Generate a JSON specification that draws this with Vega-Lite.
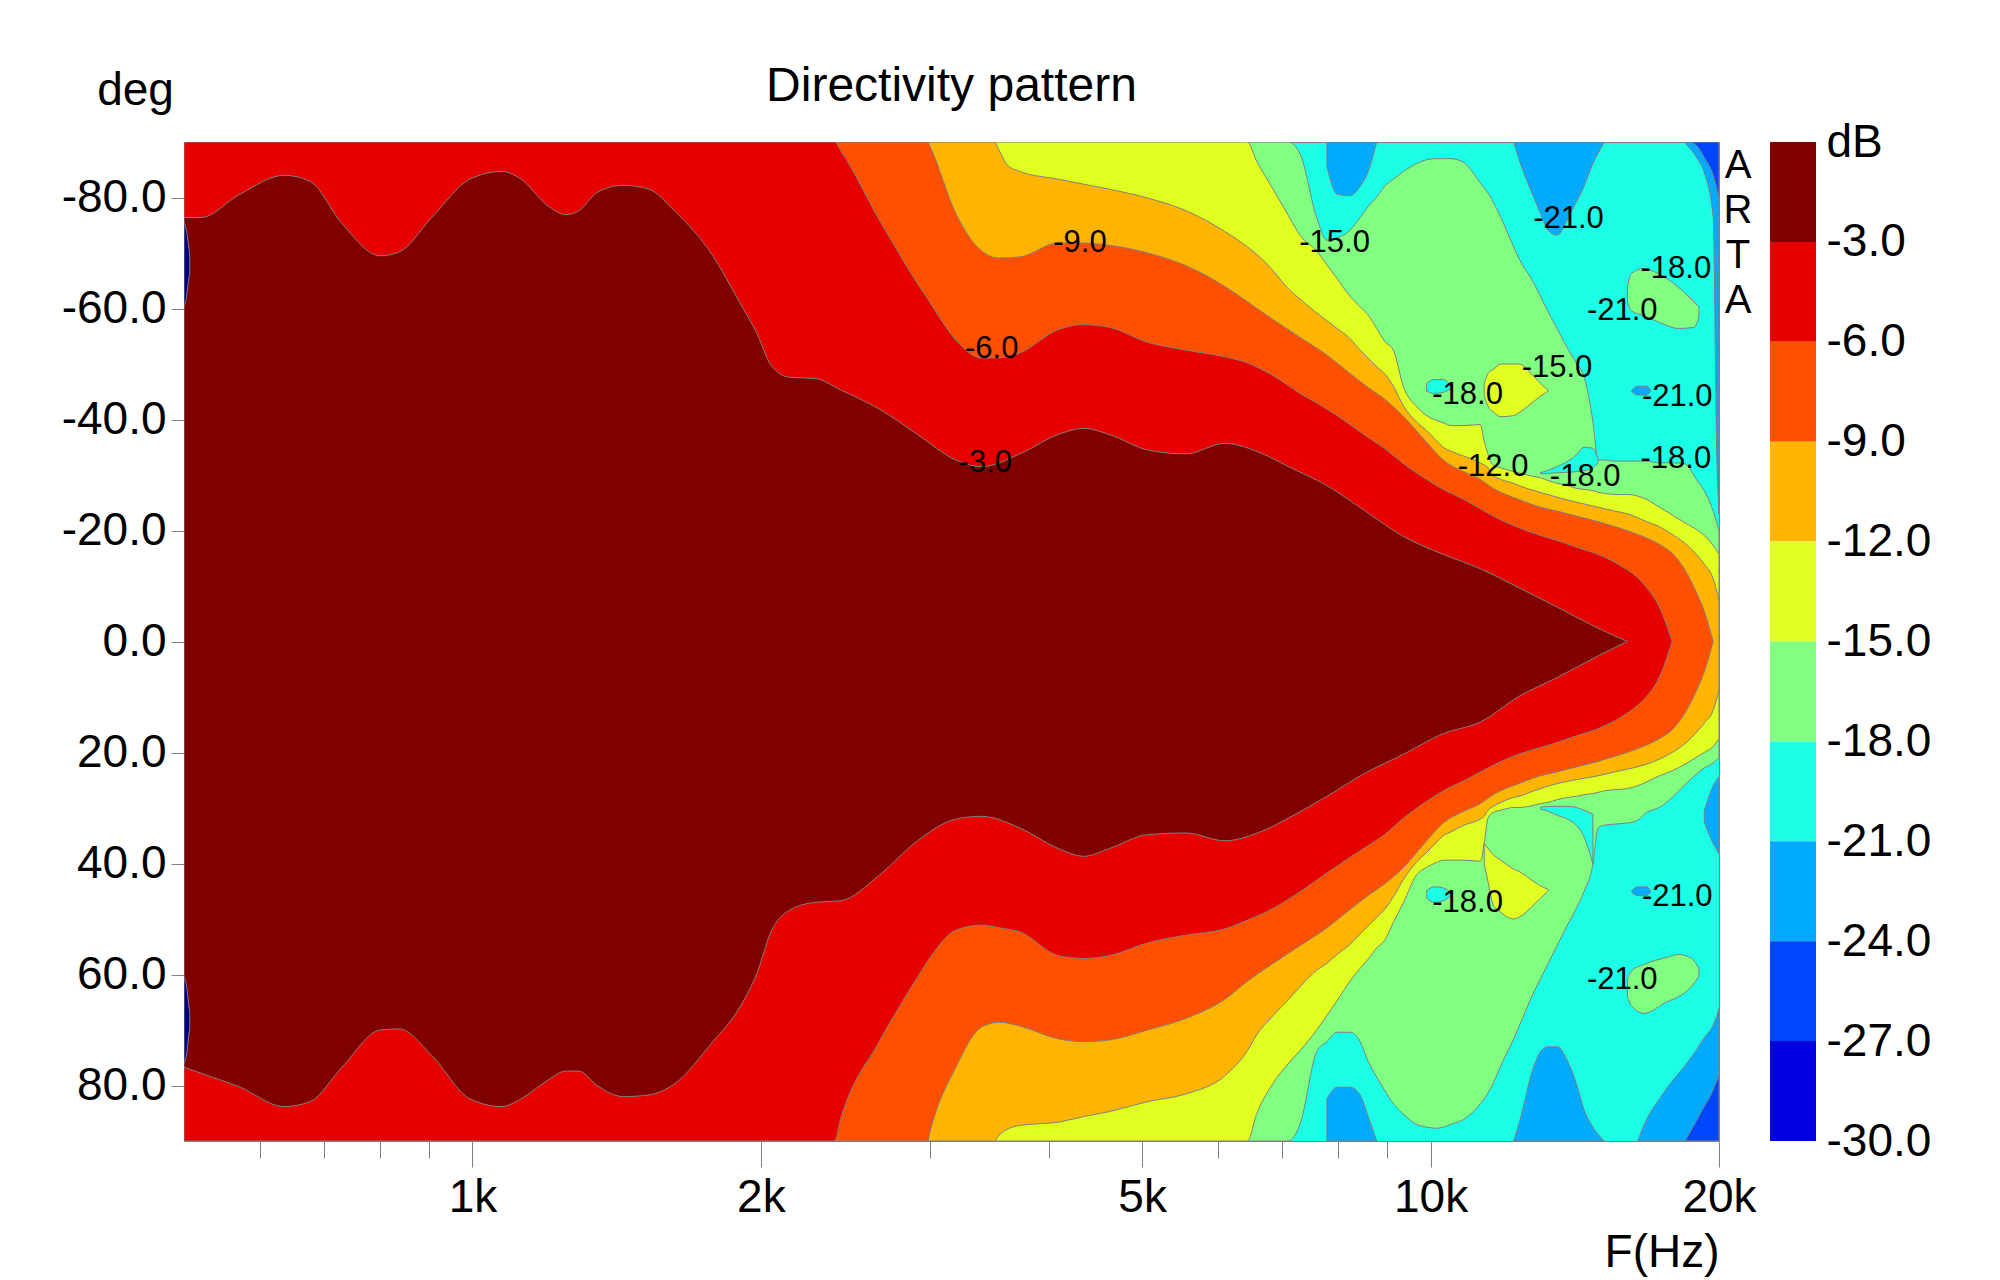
{
  "$schema": "https://vega.github.io/schema/vega-lite/v6.json",
  "background": "white",
  "padding": {"left": 61, "top": 63, "right": 10, "bottom": 2},
  "width": 1535,
  "height": 999,
  "title": {"text": "Directivity pattern", "fontSize": 48, "fontWeight": "normal", "color": "black", "anchor": "middle", "frame": "group", "offset": 10, "dy": 54},
  "config": {
    "font": "Liberation Sans",
    "view": {"stroke": "#808080", "strokeWidth": 1, "fill": "#1affe6"},
    "axis": {"labelColor": "black", "titleColor": "black", "tickColor": "#808080", "grid": false, "domain": false, "labelFont": "Liberation Sans", "titleFont": "Liberation Sans"}
  },
  "datasets": {
    "shapes": [
      {"z":1,"s":"a18","c":"-15","f":500,"lo":-90,"hi":90},{"z":1,"s":"a18","c":"-15","f":7108,"lo":-90,"hi":90},{"z":1,"s":"a18","c":"-15","f":7307,"lo":-87.9,"hi":87},{"z":1,"s":"a18","c":"-15","f":7606,"lo":-76.4,"hi":73.9},{"z":1,"s":"a18","c":"-15","f":7794,"lo":-72.3,"hi":72.1},{"z":1,"s":"a18","c":"-15","f":7988,"lo":-72.7,"hi":70.4},{"z":1,"s":"a18","c":"-15","f":8238,"lo":-74.1,"hi":70.4},{"z":1,"s":"a18","c":"-15","f":8443,"lo":-76.4,"hi":72.1},{"z":1,"s":"a18","c":"-15","f":8600,"lo":-78.3,"hi":75.5},{"z":1,"s":"a18","c":"-15","f":8787,"lo":-80.1,"hi":78.5},{"z":1,"s":"a18","c":"-15","f":8951,"lo":-82,"hi":80.8},{"z":1,"s":"a18","c":"-15","f":9145,"lo":-83.3,"hi":83.3},{"z":1,"s":"a18","c":"-15","f":9373,"lo":-84.7,"hi":85.2},{"z":1,"s":"a18","c":"-15","f":9665,"lo":-86.1,"hi":87},{"z":1,"s":"a18","c":"-15","f":9906,"lo":-86.8,"hi":87.5},{"z":1,"s":"a18","c":"-15","f":10153,"lo":-87,"hi":87.7},{"z":1,"s":"a18","c":"-15","f":10310,"lo":-87,"hi":87.5},{"z":1,"s":"a18","c":"-15","f":10502,"lo":-87,"hi":87},{"z":1,"s":"a18","c":"-15","f":10830,"lo":-86.3,"hi":86.1},{"z":1,"s":"a18","c":"-15","f":11272,"lo":-82.6,"hi":83.3},{"z":1,"s":"a18","c":"-15","f":11376,"lo":-81.7,"hi":82.4},{"z":1,"s":"a18","c":"-15","f":11481,"lo":-80.8,"hi":81.3},{"z":1,"s":"a18","c":"-15","f":11623,"lo":-79.2,"hi":79.6},{"z":1,"s":"a18","c":"-15","f":11840,"lo":-76.4,"hi":76.4},{"z":1,"s":"a18","c":"-15","f":12210,"lo":-71.1,"hi":71.6},{"z":1,"s":"a18","c":"-15","f":12361,"lo":-69.1,"hi":69.5},{"z":1,"s":"a18","c":"-15","f":12824,"lo":-64.5,"hi":63.1},{"z":1,"s":"a18","c":"-15","f":13023,"lo":-62.2,"hi":60.8},{"z":1,"s":"a18","c":"-15","f":13265,"lo":-59.4,"hi":58},{"z":1,"s":"a18","c":"-15","f":13554,"lo":-56.4,"hi":54.8},{"z":1,"s":"a18","c":"-15","f":13891,"lo":-52.9,"hi":51.1},{"z":1,"s":"a18","c":"-15","f":14193,"lo":-50.2,"hi":48.1},{"z":1,"s":"a18","c":"-15","f":14458,"lo":-47.7,"hi":45.1},{"z":1,"s":"a18","c":"-15","f":14772,"lo":-39.6,"hi":40.1},{"z":1,"s":"a18","c":"-15","f":14955,"lo":-32.7,"hi":33.6},{"z":1,"s":"a18","c":"-15","f":15187,"lo":-32.7,"hi":33.1},{"z":1,"s":"a18","c":"-15","f":15565,"lo":-32.5,"hi":32.9},{"z":1,"s":"a18","c":"-15","f":16049,"lo":-32.5,"hi":32.7},{"z":1,"s":"a18","c":"-15","f":16449,"lo":-32.5,"hi":32.2},{"z":1,"s":"a18","c":"-15","f":16807,"lo":-32.5,"hi":30.8},{"z":1,"s":"a18","c":"-15","f":17332,"lo":-32.2,"hi":29.9},{"z":1,"s":"a18","c":"-15","f":17873,"lo":-32.2,"hi":28.1},{"z":1,"s":"a18","c":"-15","f":18431,"lo":-32,"hi":25.8},{"z":1,"s":"a18","c":"-15","f":19008,"lo":-28.8,"hi":23.7},{"z":1,"s":"a18","c":"-15","f":19302,"lo":-27.2,"hi":22.8},{"z":1,"s":"a18","c":"-15","f":19722,"lo":-23.5,"hi":21.9},{"z":1,"s":"a18","c":"-15","f":20000,"lo":-20,"hi":20.9},
      {"z":1,"s":"g1","c":"-15","f":16049,"lo":-63.8,"hi":-61.2},{"z":1,"s":"g1","c":"-15","f":16200,"lo":-66.3,"hi":-59.6},{"z":1,"s":"g1","c":"-15","f":16700,"lo":-67.2,"hi":-58.7},{"z":1,"s":"g1","c":"-15","f":17280,"lo":-66.3,"hi":-57.6},{"z":1,"s":"g1","c":"-15","f":18150,"lo":-63.8,"hi":-56.4},{"z":1,"s":"g1","c":"-15","f":18830,"lo":-61.2,"hi":-56.6},{"z":1,"s":"g1","c":"-15","f":19060,"lo":-60.3,"hi":-58.5},
      {"z":1,"s":"g2","c":"-15","f":16049,"lo":60.8,"hi":64},{"z":1,"s":"g2","c":"-15","f":16200,"lo":59.4,"hi":65.6},{"z":1,"s":"g2","c":"-15","f":16700,"lo":58.2,"hi":67},{"z":1,"s":"g2","c":"-15","f":17650,"lo":56.9,"hi":64.9},{"z":1,"s":"g2","c":"-15","f":18150,"lo":56.4,"hi":64},{"z":1,"s":"g2","c":"-15","f":18720,"lo":57.1,"hi":62.2},{"z":1,"s":"g2","c":"-15","f":19060,"lo":58.9,"hi":60.3},
      {"z":2,"s":"a15","c":"-12","f":500,"lo":-90,"hi":90},{"z":2,"s":"a15","c":"-12","f":6441,"lo":-90,"hi":90},{"z":2,"s":"a15","c":"-12","f":6582,"lo":-86.6,"hi":85.2},{"z":2,"s":"a15","c":"-12","f":6850,"lo":-81.5,"hi":79.6},{"z":2,"s":"a15","c":"-12","f":7108,"lo":-76.7,"hi":76},{"z":2,"s":"a15","c":"-12","f":7307,"lo":-73.2,"hi":73.7},{"z":2,"s":"a15","c":"-12","f":7606,"lo":-70.4,"hi":70},{"z":2,"s":"a15","c":"-12","f":7794,"lo":-67.9,"hi":67.4},{"z":2,"s":"a15","c":"-12","f":7988,"lo":-65.4,"hi":64.7},{"z":2,"s":"a15","c":"-12","f":8238,"lo":-62.2,"hi":61.2},{"z":2,"s":"a15","c":"-12","f":8443,"lo":-60.3,"hi":58.9},{"z":2,"s":"a15","c":"-12","f":8600,"lo":-58.9,"hi":57.3},{"z":2,"s":"a15","c":"-12","f":8787,"lo":-56.4,"hi":55.2},{"z":2,"s":"a15","c":"-12","f":8951,"lo":-54.1,"hi":53.9},{"z":2,"s":"a15","c":"-12","f":9145,"lo":-52.5,"hi":50.6},{"z":2,"s":"a15","c":"-12","f":9373,"lo":-45.8,"hi":47},{"z":2,"s":"a15","c":"-12","f":9665,"lo":-42.4,"hi":42.1},{"z":2,"s":"a15","c":"-12","f":9906,"lo":-40.7,"hi":40.7},{"z":2,"s":"a15","c":"-12","f":10153,"lo":-39.8,"hi":39.8},{"z":2,"s":"a15","c":"-12","f":10310,"lo":-39.4,"hi":39.4},{"z":2,"s":"a15","c":"-12","f":10502,"lo":-38.9,"hi":39.4},{"z":2,"s":"a15","c":"-12","f":10830,"lo":-38.9,"hi":39.4},{"z":2,"s":"a15","c":"-12","f":11272,"lo":-39.1,"hi":39.6},{"z":2,"s":"a15","c":"-12","f":11376,"lo":-36.1,"hi":36.4},{"z":2,"s":"a15","c":"-12","f":11481,"lo":-33.8,"hi":31.8},{"z":2,"s":"a15","c":"-12","f":11623,"lo":-31.8,"hi":30.8},{"z":2,"s":"a15","c":"-12","f":11840,"lo":-31.3,"hi":30.4},{"z":2,"s":"a15","c":"-12","f":12210,"lo":-30.6,"hi":29.9},{"z":2,"s":"a15","c":"-12","f":12361,"lo":-30.4,"hi":29.9},{"z":2,"s":"a15","c":"-12","f":12824,"lo":-29.7,"hi":29.5},{"z":2,"s":"a15","c":"-12","f":13023,"lo":-29.5,"hi":29.2},{"z":2,"s":"a15","c":"-12","f":13265,"lo":-29,"hi":29},{"z":2,"s":"a15","c":"-12","f":13554,"lo":-28.5,"hi":28.5},{"z":2,"s":"a15","c":"-12","f":13891,"lo":-28.1,"hi":28.1},{"z":2,"s":"a15","c":"-12","f":14193,"lo":-27.6,"hi":27.9},{"z":2,"s":"a15","c":"-12","f":14458,"lo":-27.4,"hi":27.6},{"z":2,"s":"a15","c":"-12","f":14772,"lo":-27.2,"hi":27.4},{"z":2,"s":"a15","c":"-12","f":14955,"lo":-26.9,"hi":27.2},{"z":2,"s":"a15","c":"-12","f":15187,"lo":-26.7,"hi":26.9},{"z":2,"s":"a15","c":"-12","f":15565,"lo":-26.5,"hi":26.7},{"z":2,"s":"a15","c":"-12","f":16049,"lo":-26.5,"hi":26.5},{"z":2,"s":"a15","c":"-12","f":16449,"lo":-26.2,"hi":26},{"z":2,"s":"a15","c":"-12","f":16807,"lo":-25.6,"hi":25.3},{"z":2,"s":"a15","c":"-12","f":17332,"lo":-24.2,"hi":24.2},{"z":2,"s":"a15","c":"-12","f":17873,"lo":-22.8,"hi":23.3},{"z":2,"s":"a15","c":"-12","f":18431,"lo":-21.4,"hi":22.1},{"z":2,"s":"a15","c":"-12","f":19008,"lo":-20,"hi":20.7},{"z":2,"s":"a15","c":"-12","f":19302,"lo":-19.1,"hi":20},{"z":2,"s":"a15","c":"-12","f":19722,"lo":-17.3,"hi":18.9},{"z":2,"s":"a15","c":"-12","f":20000,"lo":-15.7,"hi":17.5},
      {"z":2,"s":"t1","c":"-12","f":11376,"lo":-46.5,"hi":-44.2},{"z":2,"s":"t1","c":"-12","f":11481,"lo":-48.3,"hi":-42.4},{"z":2,"s":"t1","c":"-12","f":11623,"lo":-49,"hi":-41.4},{"z":2,"s":"t1","c":"-12","f":11840,"lo":-50,"hi":-40.5},{"z":2,"s":"t1","c":"-12","f":12210,"lo":-50,"hi":-40.7},{"z":2,"s":"t1","c":"-12","f":12361,"lo":-50,"hi":-41.2},{"z":2,"s":"t1","c":"-12","f":12824,"lo":-47.7,"hi":-43.3},{"z":2,"s":"t1","c":"-12","f":13023,"lo":-46.5,"hi":-44.2},{"z":2,"s":"t1","c":"-12","f":13265,"lo":-45.3,"hi":-45.1},
      {"z":2,"s":"t2","c":"-12","f":11376,"lo":36.4,"hi":40.1},{"z":2,"s":"t2","c":"-12","f":11481,"lo":37.3,"hi":43.3},{"z":2,"s":"t2","c":"-12","f":11623,"lo":38.4,"hi":47.4},{"z":2,"s":"t2","c":"-12","f":11840,"lo":39.4,"hi":48.8},{"z":2,"s":"t2","c":"-12","f":12210,"lo":41,"hi":50},{"z":2,"s":"t2","c":"-12","f":12361,"lo":41.4,"hi":49.7},{"z":2,"s":"t2","c":"-12","f":12824,"lo":43.3,"hi":47.4},{"z":2,"s":"t2","c":"-12","f":13023,"lo":44,"hi":46.3},{"z":2,"s":"t2","c":"-12","f":13265,"lo":44.7,"hi":44.9},
      {"z":3,"s":"a12","c":"-9","f":500,"lo":-90,"hi":90},{"z":3,"s":"a12","c":"-9","f":3505,"lo":-90,"hi":90},{"z":3,"s":"a12","c":"-9","f":3548,"lo":-88.4,"hi":88.9},{"z":3,"s":"a12","c":"-9","f":3614,"lo":-85.9,"hi":87.9},{"z":3,"s":"a12","c":"-9","f":3727,"lo":-84.7,"hi":87.2},{"z":3,"s":"a12","c":"-9","f":4087,"lo":-83.3,"hi":86.6},{"z":3,"s":"a12","c":"-9","f":4346,"lo":-82.4,"hi":85.6},{"z":3,"s":"a12","c":"-9","f":4621,"lo":-81.5,"hi":84.7},{"z":3,"s":"a12","c":"-9","f":5068,"lo":-79.9,"hi":82.9},{"z":3,"s":"a12","c":"-9","f":5559,"lo":-77.6,"hi":81.5},{"z":3,"s":"a12","c":"-9","f":6095,"lo":-73.9,"hi":78.3},{"z":3,"s":"a12","c":"-9","f":6441,"lo":-71.1,"hi":73.7},{"z":3,"s":"a12","c":"-9","f":6582,"lo":-69.8,"hi":70.9},{"z":3,"s":"a12","c":"-9","f":6850,"lo":-66.8,"hi":67.4},{"z":3,"s":"a12","c":"-9","f":7108,"lo":-63.5,"hi":64.5},{"z":3,"s":"a12","c":"-9","f":7307,"lo":-61.7,"hi":62.2},{"z":3,"s":"a12","c":"-9","f":7606,"lo":-59.2,"hi":59.2},{"z":3,"s":"a12","c":"-9","f":7794,"lo":-57.8,"hi":58},{"z":3,"s":"a12","c":"-9","f":7988,"lo":-56.4,"hi":56.4},{"z":3,"s":"a12","c":"-9","f":8238,"lo":-54.6,"hi":54.6},{"z":3,"s":"a12","c":"-9","f":8443,"lo":-52.5,"hi":52.7},{"z":3,"s":"a12","c":"-9","f":8600,"lo":-51.1,"hi":51.3},{"z":3,"s":"a12","c":"-9","f":8787,"lo":-49.5,"hi":49.7},{"z":3,"s":"a12","c":"-9","f":8951,"lo":-48.3,"hi":48.3},{"z":3,"s":"a12","c":"-9","f":9145,"lo":-46,"hi":46},{"z":3,"s":"a12","c":"-9","f":9373,"lo":-42.4,"hi":42.8},{"z":3,"s":"a12","c":"-9","f":9665,"lo":-39.6,"hi":39.8},{"z":3,"s":"a12","c":"-9","f":9906,"lo":-38,"hi":38},{"z":3,"s":"a12","c":"-9","f":10153,"lo":-36.1,"hi":36.1},{"z":3,"s":"a12","c":"-9","f":10310,"lo":-35,"hi":35},{"z":3,"s":"a12","c":"-9","f":10502,"lo":-34.3,"hi":34.3},{"z":3,"s":"a12","c":"-9","f":10830,"lo":-33.4,"hi":33.1},{"z":3,"s":"a12","c":"-9","f":11272,"lo":-32.2,"hi":32},{"z":3,"s":"a12","c":"-9","f":11376,"lo":-31.8,"hi":31.5},{"z":3,"s":"a12","c":"-9","f":11481,"lo":-31.3,"hi":30.4},{"z":3,"s":"a12","c":"-9","f":11623,"lo":-29.9,"hi":29.7},{"z":3,"s":"a12","c":"-9","f":11840,"lo":-29.2,"hi":29},{"z":3,"s":"a12","c":"-9","f":12210,"lo":-28.5,"hi":28.1},{"z":3,"s":"a12","c":"-9","f":12361,"lo":-28.1,"hi":27.9},{"z":3,"s":"a12","c":"-9","f":12824,"lo":-27.2,"hi":26.9},{"z":3,"s":"a12","c":"-9","f":13554,"lo":-26,"hi":25.6},{"z":3,"s":"a12","c":"-9","f":14193,"lo":-25.1,"hi":24.9},{"z":3,"s":"a12","c":"-9","f":14955,"lo":-24.2,"hi":24.2},{"z":3,"s":"a12","c":"-9","f":15565,"lo":-23.5,"hi":23.5},{"z":3,"s":"a12","c":"-9","f":16049,"lo":-23,"hi":23},{"z":3,"s":"a12","c":"-9","f":16807,"lo":-21.6,"hi":22.1},{"z":3,"s":"a12","c":"-9","f":17332,"lo":-20.7,"hi":21.2},{"z":3,"s":"a12","c":"-9","f":17873,"lo":-19.3,"hi":20},{"z":3,"s":"a12","c":"-9","f":18431,"lo":-17.7,"hi":18.4},{"z":3,"s":"a12","c":"-9","f":19008,"lo":-15.4,"hi":16.1},{"z":3,"s":"a12","c":"-9","f":19302,"lo":-14,"hi":14.7},{"z":3,"s":"a12","c":"-9","f":19722,"lo":-11.3,"hi":12.4},{"z":3,"s":"a12","c":"-9","f":20000,"lo":-7.4,"hi":8.7},
      {"z":4,"s":"a9","c":"-6","f":500,"lo":-90,"hi":90},{"z":4,"s":"a9","c":"-6","f":2987,"lo":-90,"hi":90},{"z":4,"s":"a9","c":"-6","f":3005,"lo":-89.1,"hi":88.2},{"z":4,"s":"a9","c":"-6","f":3196,"lo":-77.1,"hi":76.7},{"z":4,"s":"a9","c":"-6","f":3398,"lo":-70.4,"hi":69.5},{"z":4,"s":"a9","c":"-6","f":3548,"lo":-69.1,"hi":68.6},{"z":4,"s":"a9","c":"-6","f":3727,"lo":-69.3,"hi":69.3},{"z":4,"s":"a9","c":"-6","f":4087,"lo":-71.8,"hi":71.6},{"z":4,"s":"a9","c":"-6","f":4346,"lo":-71.8,"hi":72.1},{"z":4,"s":"a9","c":"-6","f":4621,"lo":-71.4,"hi":71.8},{"z":4,"s":"a9","c":"-6","f":5068,"lo":-70,"hi":70},{"z":4,"s":"a9","c":"-6","f":5559,"lo":-67.7,"hi":67.9},{"z":4,"s":"a9","c":"-6","f":6095,"lo":-64,"hi":64.5},{"z":4,"s":"a9","c":"-6","f":6441,"lo":-61.2,"hi":61.2},{"z":4,"s":"a9","c":"-6","f":6850,"lo":-58,"hi":58},{"z":4,"s":"a9","c":"-6","f":7307,"lo":-54.8,"hi":54.8},{"z":4,"s":"a9","c":"-6","f":7794,"lo":-51.6,"hi":51.6},{"z":4,"s":"a9","c":"-6","f":8238,"lo":-48.3,"hi":48.3},{"z":4,"s":"a9","c":"-6","f":8600,"lo":-45.8,"hi":45.8},{"z":4,"s":"a9","c":"-6","f":8951,"lo":-43.7,"hi":43.7},{"z":4,"s":"a9","c":"-6","f":9373,"lo":-40.5,"hi":40.7},{"z":4,"s":"a9","c":"-6","f":9906,"lo":-35.9,"hi":35.9},{"z":4,"s":"a9","c":"-6","f":10310,"lo":-32.7,"hi":32.7},{"z":4,"s":"a9","c":"-6","f":10830,"lo":-30.6,"hi":30.6},{"z":4,"s":"a9","c":"-6","f":11272,"lo":-29.2,"hi":29.2},{"z":4,"s":"a9","c":"-6","f":11623,"lo":-27.6,"hi":27.6},{"z":4,"s":"a9","c":"-6","f":12361,"lo":-25.6,"hi":25.6},{"z":4,"s":"a9","c":"-6","f":13023,"lo":-24.2,"hi":24.2},{"z":4,"s":"a9","c":"-6","f":13554,"lo":-23.5,"hi":23.5},{"z":4,"s":"a9","c":"-6","f":14193,"lo":-22.6,"hi":22.6},{"z":4,"s":"a9","c":"-6","f":14955,"lo":-21.6,"hi":21.6},{"z":4,"s":"a9","c":"-6","f":15565,"lo":-20.7,"hi":20.7},{"z":4,"s":"a9","c":"-6","f":16449,"lo":-19.3,"hi":19.3},{"z":4,"s":"a9","c":"-6","f":17332,"lo":-17.5,"hi":17.5},{"z":4,"s":"a9","c":"-6","f":17873,"lo":-15.9,"hi":15.9},{"z":4,"s":"a9","c":"-6","f":18431,"lo":-12.9,"hi":12.9},{"z":4,"s":"a9","c":"-6","f":19008,"lo":-8.3,"hi":8.3},{"z":4,"s":"a9","c":"-6","f":19302,"lo":-5.5,"hi":5.5},{"z":4,"s":"a9","c":"-6","f":19722,"lo":0,"hi":0},
      {"z":5,"s":"a6","c":"-3","f":500,"lo":-90,"hi":90},{"z":5,"s":"a6","c":"-3","f":2387,"lo":-90,"hi":90},{"z":5,"s":"a6","c":"-3","f":2424,"lo":-88.4,"hi":85.9},{"z":5,"s":"a6","c":"-3","f":2658,"lo":-76,"hi":72.1},{"z":5,"s":"a6","c":"-3","f":2914,"lo":-64.5,"hi":60.5},{"z":5,"s":"a6","c":"-3","f":3005,"lo":-61,"hi":56.9},{"z":5,"s":"a6","c":"-3","f":3196,"lo":-54.3,"hi":52},{"z":5,"s":"a6","c":"-3","f":3398,"lo":-51.1,"hi":51.1},{"z":5,"s":"a6","c":"-3","f":3548,"lo":-51.1,"hi":51.6},{"z":5,"s":"a6","c":"-3","f":3727,"lo":-52,"hi":52.3},{"z":5,"s":"a6","c":"-3","f":4087,"lo":-56.2,"hi":56.6},{"z":5,"s":"a6","c":"-3","f":4346,"lo":-57.1,"hi":57.1},{"z":5,"s":"a6","c":"-3","f":4621,"lo":-56.6,"hi":56.6},{"z":5,"s":"a6","c":"-3","f":5068,"lo":-53.9,"hi":54.3},{"z":5,"s":"a6","c":"-3","f":5559,"lo":-52.5,"hi":52.9},{"z":5,"s":"a6","c":"-3","f":6095,"lo":-51.3,"hi":51.8},{"z":5,"s":"a6","c":"-3","f":6441,"lo":-50.2,"hi":50.2},{"z":5,"s":"a6","c":"-3","f":6850,"lo":-47.9,"hi":48.1},{"z":5,"s":"a6","c":"-3","f":7307,"lo":-44.7,"hi":45.1},{"z":5,"s":"a6","c":"-3","f":7794,"lo":-41.9,"hi":41.7},{"z":5,"s":"a6","c":"-3","f":8238,"lo":-39.1,"hi":38.9},{"z":5,"s":"a6","c":"-3","f":8600,"lo":-36.8,"hi":36.8},{"z":5,"s":"a6","c":"-3","f":8951,"lo":-34.8,"hi":34.8},{"z":5,"s":"a6","c":"-3","f":9373,"lo":-32,"hi":31.8},{"z":5,"s":"a6","c":"-3","f":9906,"lo":-29.2,"hi":28.8},{"z":5,"s":"a6","c":"-3","f":10310,"lo":-27.4,"hi":26.9},{"z":5,"s":"a6","c":"-3","f":10830,"lo":-25.6,"hi":25.1},{"z":5,"s":"a6","c":"-3","f":11272,"lo":-23.9,"hi":23.5},{"z":5,"s":"a6","c":"-3","f":11623,"lo":-22.6,"hi":22.3},{"z":5,"s":"a6","c":"-3","f":12361,"lo":-20.5,"hi":20.3},{"z":5,"s":"a6","c":"-3","f":13023,"lo":-19.1,"hi":19.1},{"z":5,"s":"a6","c":"-3","f":13554,"lo":-18.2,"hi":18.2},{"z":5,"s":"a6","c":"-3","f":14193,"lo":-17,"hi":17},{"z":5,"s":"a6","c":"-3","f":14955,"lo":-15.7,"hi":15.7},{"z":5,"s":"a6","c":"-3","f":15565,"lo":-14.3,"hi":14.3},{"z":5,"s":"a6","c":"-3","f":16049,"lo":-12.9,"hi":12.9},{"z":5,"s":"a6","c":"-3","f":16449,"lo":-11.5,"hi":11.5},{"z":5,"s":"a6","c":"-3","f":16807,"lo":-9.7,"hi":9.9},{"z":5,"s":"a6","c":"-3","f":17332,"lo":-6.2,"hi":6.4},{"z":5,"s":"a6","c":"-3","f":17873,"lo":0,"hi":0},
      {"z":6,"s":"a3","c":"0","f":500,"lo":-76.4,"hi":76.7},{"z":6,"s":"a3","c":"0","f":521,"lo":-76.4,"hi":77.8},{"z":6,"s":"a3","c":"0","f":572,"lo":-80.6,"hi":80.3},{"z":6,"s":"a3","c":"0","f":636,"lo":-84,"hi":83.8},{"z":6,"s":"a3","c":"0","f":677,"lo":-82.9,"hi":82.9},{"z":6,"s":"a3","c":"0","f":731,"lo":-75.3,"hi":76.7},{"z":6,"s":"a3","c":"0","f":801,"lo":-69.5,"hi":70},{"z":6,"s":"a3","c":"0","f":839,"lo":-70.2,"hi":69.8},{"z":6,"s":"a3","c":"0","f":907,"lo":-76.4,"hi":74.6},{"z":6,"s":"a3","c":"0","f":994,"lo":-83.3,"hi":82.4},{"z":6,"s":"a3","c":"0","f":1073,"lo":-84.7,"hi":83.8},{"z":6,"s":"a3","c":"0","f":1124,"lo":-83.3,"hi":82.4},{"z":6,"s":"a3","c":"0","f":1195,"lo":-78.7,"hi":79.2},{"z":6,"s":"a3","c":"0","f":1252,"lo":-76.9,"hi":77.4},{"z":6,"s":"a3","c":"0","f":1291,"lo":-77.6,"hi":77.4},{"z":6,"s":"a3","c":"0","f":1352,"lo":-81,"hi":80.1},{"z":6,"s":"a3","c":"0","f":1437,"lo":-82.2,"hi":82},{"z":6,"s":"a3","c":"0","f":1528,"lo":-81.5,"hi":81.7},{"z":6,"s":"a3","c":"0","f":1625,"lo":-77.6,"hi":79.7},{"z":6,"s":"a3","c":"0","f":1782,"lo":-69.5,"hi":72.1},{"z":6,"s":"a3","c":"0","f":1895,"lo":-61.5,"hi":66.3},{"z":6,"s":"a3","c":"0","f":1985,"lo":-55.2,"hi":59.4},{"z":6,"s":"a3","c":"0","f":2047,"lo":-49.9,"hi":52.5},{"z":6,"s":"a3","c":"0","f":2143,"lo":-47.6,"hi":48.4},{"z":6,"s":"a3","c":"0","f":2279,"lo":-47.4,"hi":47},{"z":6,"s":"a3","c":"0","f":2424,"lo":-45.3,"hi":46.7},{"z":6,"s":"a3","c":"0","f":2658,"lo":-41.9,"hi":42.1},{"z":6,"s":"a3","c":"0","f":2914,"lo":-37.3,"hi":35.9},{"z":6,"s":"a3","c":"0","f":3196,"lo":-32.7,"hi":32},{"z":6,"s":"a3","c":"0","f":3398,"lo":-31.5,"hi":31.5},{"z":6,"s":"a3","c":"0","f":3727,"lo":-33.8,"hi":33.6},{"z":6,"s":"a3","c":"0","f":4087,"lo":-37.3,"hi":37.3},{"z":6,"s":"a3","c":"0","f":4346,"lo":-38.4,"hi":38.7},{"z":6,"s":"a3","c":"0","f":4621,"lo":-37.3,"hi":37.3},{"z":6,"s":"a3","c":"0","f":5068,"lo":-34.5,"hi":34.8},{"z":6,"s":"a3","c":"0","f":5559,"lo":-33.8,"hi":34.5},{"z":6,"s":"a3","c":"0","f":6095,"lo":-35.7,"hi":35.9},{"z":6,"s":"a3","c":"0","f":6684,"lo":-33.8,"hi":34.1},{"z":6,"s":"a3","c":"0","f":7108,"lo":-31.5,"hi":31.8},{"z":6,"s":"a3","c":"0","f":7794,"lo":-28.1,"hi":27.9},{"z":6,"s":"a3","c":"0","f":8547,"lo":-23.5,"hi":23.7},{"z":6,"s":"a3","c":"0","f":9373,"lo":-18.9,"hi":20.3},{"z":6,"s":"a3","c":"0","f":10310,"lo":-15.7,"hi":16.6},{"z":6,"s":"a3","c":"0","f":11272,"lo":-13.1,"hi":14.5},{"z":6,"s":"a3","c":"0","f":12361,"lo":-9.7,"hi":9.9},{"z":6,"s":"a3","c":"0","f":13554,"lo":-6.2,"hi":6.5},{"z":6,"s":"a3","c":"0","f":14955,"lo":-2.4,"hi":2.6},{"z":6,"s":"a3","c":"0","f":16049,"lo":0,"hi":0},
      {"z":7,"s":"lens1","c":"n","f":500,"lo":-75.5,"hi":-60.5},{"z":7,"s":"lens1","c":"n","f":503,"lo":-74,"hi":-62},{"z":7,"s":"lens1","c":"n","f":505,"lo":-72,"hi":-64.5},{"z":7,"s":"lens1","c":"n","f":507,"lo":-69.5,"hi":-66.5},
      {"z":7,"s":"lens2","c":"n","f":500,"lo":60.5,"hi":76},{"z":7,"s":"lens2","c":"n","f":503,"lo":62,"hi":74.5},{"z":7,"s":"lens2","c":"n","f":505,"lo":64.5,"hi":72},{"z":7,"s":"lens2","c":"n","f":507,"lo":67,"hi":69.5},
      {"z":7,"s":"c1","c":"-18","f":9906,"lo":-46.5,"hi":-45.1},{"z":7,"s":"c1","c":"-18","f":10090,"lo":-47.2,"hi":-44.7},{"z":7,"s":"c1","c":"-18","f":10310,"lo":-47.2,"hi":-44.9},{"z":7,"s":"c1","c":"-18","f":10502,"lo":-46,"hi":-45.6},
      {"z":7,"s":"c2","c":"-18","f":9906,"lo":44.9,"hi":46.3},{"z":7,"s":"c2","c":"-18","f":10090,"lo":44.2,"hi":47},{"z":7,"s":"c2","c":"-18","f":10310,"lo":44.4,"hi":46.7},{"z":7,"s":"c2","c":"-18","f":10502,"lo":45.3,"hi":45.8},
      {"z":7,"s":"sl","c":"-18","f":13023,"lo":-30.4,"hi":-30.2},{"z":7,"s":"sl","c":"-18","f":13554,"lo":-31.5,"hi":-30.4},{"z":7,"s":"sl","c":"-18","f":14193,"lo":-33.6,"hi":-30.6},{"z":7,"s":"sl","c":"-18","f":14458,"lo":-35,"hi":-30.8},{"z":7,"s":"sl","c":"-18","f":14772,"lo":-34.8,"hi":-31.3},{"z":7,"s":"sl","c":"-18","f":14955,"lo":-32.7,"hi":-32.2},
      {"z":7,"s":"tg","c":"-18","f":13023,"lo":29.9,"hi":30.2},{"z":7,"s":"tg","c":"-18","f":13265,"lo":29.7,"hi":30.6},{"z":7,"s":"tg","c":"-18","f":13554,"lo":29.7,"hi":31.3},{"z":7,"s":"tg","c":"-18","f":13891,"lo":29.7,"hi":32},{"z":7,"s":"tg","c":"-18","f":14193,"lo":29.9,"hi":33.1},{"z":7,"s":"tg","c":"-18","f":14458,"lo":30.4,"hi":35.2},{"z":7,"s":"tg","c":"-18","f":14772,"lo":31.1,"hi":40.1},
      {"z":7,"s":"p1","c":"-21","f":7794,"lo":-90,"hi":-85.6},{"z":7,"s":"p1","c":"-21","f":7988,"lo":-90,"hi":-80.6},{"z":7,"s":"p1","c":"-21","f":8238,"lo":-90,"hi":-80.3},{"z":7,"s":"p1","c":"-21","f":8443,"lo":-90,"hi":-82},{"z":7,"s":"p1","c":"-21","f":8600,"lo":-90,"hi":-84.5},{"z":7,"s":"p1","c":"-21","f":8787,"lo":-90,"hi":-90},
      {"z":7,"s":"q1","c":"-21","f":7794,"lo":82.4,"hi":90},{"z":7,"s":"q1","c":"-21","f":7988,"lo":80.3,"hi":90},{"z":7,"s":"q1","c":"-21","f":8238,"lo":80.3,"hi":90},{"z":7,"s":"q1","c":"-21","f":8443,"lo":81.7,"hi":90},{"z":7,"s":"q1","c":"-21","f":8600,"lo":85.4,"hi":90},{"z":7,"s":"q1","c":"-21","f":8787,"lo":90,"hi":90},
      {"z":7,"s":"p2","c":"-21","f":12210,"lo":-90,"hi":-90},{"z":7,"s":"p2","c":"-21","f":12361,"lo":-90,"hi":-87},{"z":7,"s":"p2","c":"-21","f":12824,"lo":-90,"hi":-79.9},{"z":7,"s":"p2","c":"-21","f":13023,"lo":-90,"hi":-77.1},{"z":7,"s":"p2","c":"-21","f":13265,"lo":-90,"hi":-74.1},{"z":7,"s":"p2","c":"-21","f":13554,"lo":-90,"hi":-73.2},{"z":7,"s":"p2","c":"-21","f":13891,"lo":-90,"hi":-76},{"z":7,"s":"p2","c":"-21","f":14193,"lo":-90,"hi":-79.2},{"z":7,"s":"p2","c":"-21","f":14458,"lo":-90,"hi":-82},{"z":7,"s":"p2","c":"-21","f":14772,"lo":-90,"hi":-86.1},{"z":7,"s":"p2","c":"-21","f":15187,"lo":-90,"hi":-90},
      {"z":7,"s":"q2","c":"-21","f":12210,"lo":90,"hi":90},{"z":7,"s":"q2","c":"-21","f":12361,"lo":87,"hi":90},{"z":7,"s":"q2","c":"-21","f":12824,"lo":76.4,"hi":90},{"z":7,"s":"q2","c":"-21","f":13023,"lo":73.9,"hi":90},{"z":7,"s":"q2","c":"-21","f":13265,"lo":73,"hi":90},{"z":7,"s":"q2","c":"-21","f":13554,"lo":73,"hi":90},{"z":7,"s":"q2","c":"-21","f":13891,"lo":75.5,"hi":90},{"z":7,"s":"q2","c":"-21","f":14193,"lo":79.6,"hi":90},{"z":7,"s":"q2","c":"-21","f":14458,"lo":84.3,"hi":90},{"z":7,"s":"q2","c":"-21","f":14772,"lo":87.5,"hi":90},{"z":7,"s":"q2","c":"-21","f":15187,"lo":90,"hi":90},
      {"z":7,"s":"p3","c":"-21","f":18431,"lo":-90,"hi":-89.8},{"z":7,"s":"p3","c":"-21","f":19008,"lo":-90,"hi":-86.8},{"z":7,"s":"p3","c":"-21","f":19302,"lo":-90,"hi":-84.5},{"z":7,"s":"p3","c":"-21","f":19722,"lo":-90,"hi":-76.4},{"z":7,"s":"p3","c":"-21","f":19900,"lo":-90,"hi":-32.7},{"z":7,"s":"p3","c":"-21","f":20000,"lo":-90,"hi":-23},
      {"z":7,"s":"q3","c":"-21","f":16449,"lo":90,"hi":90},{"z":7,"s":"q3","c":"-21","f":16807,"lo":86.1,"hi":90},{"z":7,"s":"q3","c":"-21","f":17332,"lo":82.4,"hi":90},{"z":7,"s":"q3","c":"-21","f":17873,"lo":79.2,"hi":90},{"z":7,"s":"q3","c":"-21","f":18431,"lo":76.4,"hi":90},{"z":7,"s":"q3","c":"-21","f":19008,"lo":73.2,"hi":90},{"z":7,"s":"q3","c":"-21","f":19302,"lo":71.4,"hi":90},{"z":7,"s":"q3","c":"-21","f":19722,"lo":69.1,"hi":90},{"z":7,"s":"q3","c":"-21","f":19900,"lo":67.4,"hi":90},{"z":7,"s":"q3","c":"-21","f":20000,"lo":66.1,"hi":90},
      {"z":7,"s":"m3","c":"-21","f":19302,"lo":30.5,"hi":32.5},{"z":7,"s":"m3","c":"-21","f":19722,"lo":26,"hi":36.4},{"z":7,"s":"m3","c":"-21","f":20000,"lo":24.4,"hi":38.2},
      {"z":7,"s":"s1","c":"-21","f":16200,"lo":-45.2,"hi":-45.1},{"z":7,"s":"s1","c":"-21","f":16449,"lo":-46,"hi":-44.4},{"z":7,"s":"s1","c":"-21","f":16807,"lo":-46,"hi":-44.4},{"z":7,"s":"s1","c":"-21","f":16960,"lo":-45.3,"hi":-45.1},
      {"z":7,"s":"s2","c":"-21","f":16200,"lo":45,"hi":45.1},{"z":7,"s":"s2","c":"-21","f":16449,"lo":44.2,"hi":45.8},{"z":7,"s":"s2","c":"-21","f":16807,"lo":44.2,"hi":45.8},{"z":7,"s":"s2","c":"-21","f":16960,"lo":44.9,"hi":45.1},
      {"z":8,"s":"b1","c":"-24","f":18720,"lo":-90,"hi":-90},{"z":8,"s":"b1","c":"-24","f":19008,"lo":-90,"hi":-89.1},{"z":8,"s":"b1","c":"-24","f":19302,"lo":-90,"hi":-87.2},{"z":8,"s":"b1","c":"-24","f":19722,"lo":-90,"hi":-84},{"z":8,"s":"b1","c":"-24","f":19900,"lo":-90,"hi":-81.5},{"z":8,"s":"b1","c":"-24","f":20000,"lo":-90,"hi":-79.4},
      {"z":8,"s":"b2","c":"-24","f":18431,"lo":90,"hi":90},{"z":8,"s":"b2","c":"-24","f":19008,"lo":85.9,"hi":90},{"z":8,"s":"b2","c":"-24","f":19302,"lo":83.8,"hi":90},{"z":8,"s":"b2","c":"-24","f":19722,"lo":80.8,"hi":90},{"z":8,"s":"b2","c":"-24","f":20000,"lo":78,"hi":90}
    ],
    "labels": [
      {"f":4306,"lo":-71.8,"txt":"-9.0"},{"f":7940,"lo":-71.8,"txt":"-15.0"},{"f":13930,"lo":-76.2,"txt":"-21.0"},{"f":18030,"lo":-67.2,"txt":"-18.0"},{"f":15850,"lo":-59.6,"txt":"-21.0"},{"f":3483,"lo":-52.7,"txt":"-6.0"},{"f":13550,"lo":-49.3,"txt":"-15.0"},{"f":10930,"lo":-44.4,"txt":"-18.0"},{"f":18090,"lo":-44,"txt":"-21.0"},{"f":3430,"lo":-32.2,"txt":"-3.0"},{"f":11620,"lo":-31.5,"txt":"-12.0"},{"f":14500,"lo":-29.7,"txt":"-18.0"},{"f":18030,"lo":-32.9,"txt":"-18.0"},{"f":10930,"lo":47.2,"txt":"-18.0"},{"f":18090,"lo":46,"txt":"-21.0"},{"f":15850,"lo":61,"txt":"-21.0"}
    ],
    "arta": [
      {"f":20000,"lo":-85.7,"txt":"A"},{"f":20000,"lo":-77.6,"txt":"R"},{"f":20000,"lo":-69.5,"txt":"T"},{"f":20000,"lo":-61.4,"txt":"A"}
    ],
    "bands": [
      {"lo":-3,"hi":0,"c":"0"},{"lo":-6,"hi":-3,"c":"-3"},{"lo":-9,"hi":-6,"c":"-6"},{"lo":-12,"hi":-9,"c":"-9"},{"lo":-15,"hi":-12,"c":"-12"},{"lo":-18,"hi":-15,"c":"-15"},{"lo":-21,"hi":-18,"c":"-18"},{"lo":-24,"hi":-21,"c":"-21"},{"lo":-27,"hi":-24,"c":"-24"},{"lo":-30,"hi":-27,"c":"-27"}
    ]
  },
  "layer": [
    {
      "data": {"name": "shapes"},
      "encoding": {
        "x": {
          "field": "f", "type": "quantitative",
          "scale": {"type": "log", "domain": [500, 20000], "nice": false},
          "axis": {
            "values": [600, 700, 800, 900, 1000, 2000, 3000, 4000, 5000, 6000, 7000, 8000, 9000, 10000, 20000],
            "labelExpr": "datum.value == 1000 ? '1k' : datum.value == 2000 ? '2k' : datum.value == 5000 ? '5k' : datum.value == 10000 ? '10k' : datum.value == 20000 ? '20k' : ''",
            "tickSize": {"condition": {"test": "indexof([1000, 2000, 5000, 10000, 20000], datum.value) >= 0", "value": 26}, "value": 17},
            "labelPadding": 8, "labelFontSize": 46, "labelFlush": false, "labelOverlap": false,
            "title": "F(Hz)", "titleFontSize": 46, "titleFontWeight": "normal", "titleAngle": 0,
            "titleAlign": "right", "titleBaseline": "alphabetic", "titleX": 1535, "titleY": 125
          }
        },
        "y": {
          "field": "lo", "type": "quantitative",
          "scale": {"domain": [-90, 90], "reverse": true, "nice": false, "zero": false},
          "axis": {
            "values": [-80, -60, -40, -20, 0, 20, 40, 60, 80],
            "labelExpr": "(datum.value < 0 ? '-' : '') + format(abs(datum.value), '.1f')",
            "tickSize": 13, "labelPadding": 5, "labelFontSize": 46, "labelFlush": false,
            "title": "deg", "titleFontSize": 46, "titleFontWeight": "normal", "titleAngle": 0,
            "titleAlign": "center", "titleBaseline": "alphabetic", "titleX": -49, "titleY": -38
          }
        }
      },
      "layer": [
        {"transform": [{"filter": "datum.z == 1"}], "mark": {"type": "area", "interpolate": "monotone", "stroke": "#808080", "strokeWidth": 1, "opacity": 1, "clip": true},
         "encoding": {"y2": {"field": "hi"}, "detail": {"field": "s"}, "color": {"field": "c", "type": "nominal", "legend": null, "scale": {"domain": ["0","-3","-6","-9","-12","-15","-18","-21","-24","-27","n"], "range": ["#800000","#e60000","#ff5000","#ffb400","#e0ff20","#80ff80","#1affe6","#00aaff","#0046ff","#0000e0","#000080"]}}}},
        {"transform": [{"filter": "datum.z == 2"}], "mark": {"type": "area", "interpolate": "monotone", "stroke": "#808080", "strokeWidth": 1, "opacity": 1, "clip": true},
         "encoding": {"y2": {"field": "hi"}, "detail": {"field": "s"}, "color": {"field": "c", "type": "nominal", "legend": null, "scale": {"domain": ["0","-3","-6","-9","-12","-15","-18","-21","-24","-27","n"], "range": ["#800000","#e60000","#ff5000","#ffb400","#e0ff20","#80ff80","#1affe6","#00aaff","#0046ff","#0000e0","#000080"]}}}},
        {"transform": [{"filter": "datum.z == 3"}], "mark": {"type": "area", "interpolate": "monotone", "stroke": "#808080", "strokeWidth": 1, "opacity": 1, "clip": true},
         "encoding": {"y2": {"field": "hi"}, "detail": {"field": "s"}, "color": {"field": "c", "type": "nominal", "legend": null, "scale": {"domain": ["0","-3","-6","-9","-12","-15","-18","-21","-24","-27","n"], "range": ["#800000","#e60000","#ff5000","#ffb400","#e0ff20","#80ff80","#1affe6","#00aaff","#0046ff","#0000e0","#000080"]}}}},
        {"transform": [{"filter": "datum.z == 4"}], "mark": {"type": "area", "interpolate": "monotone", "stroke": "#808080", "strokeWidth": 1, "opacity": 1, "clip": true},
         "encoding": {"y2": {"field": "hi"}, "detail": {"field": "s"}, "color": {"field": "c", "type": "nominal", "legend": null, "scale": {"domain": ["0","-3","-6","-9","-12","-15","-18","-21","-24","-27","n"], "range": ["#800000","#e60000","#ff5000","#ffb400","#e0ff20","#80ff80","#1affe6","#00aaff","#0046ff","#0000e0","#000080"]}}}},
        {"transform": [{"filter": "datum.z == 5"}], "mark": {"type": "area", "interpolate": "monotone", "stroke": "#808080", "strokeWidth": 1, "opacity": 1, "clip": true},
         "encoding": {"y2": {"field": "hi"}, "detail": {"field": "s"}, "color": {"field": "c", "type": "nominal", "legend": null, "scale": {"domain": ["0","-3","-6","-9","-12","-15","-18","-21","-24","-27","n"], "range": ["#800000","#e60000","#ff5000","#ffb400","#e0ff20","#80ff80","#1affe6","#00aaff","#0046ff","#0000e0","#000080"]}}}},
        {"transform": [{"filter": "datum.z == 6"}], "mark": {"type": "area", "interpolate": "monotone", "stroke": "#808080", "strokeWidth": 1, "opacity": 1, "clip": true},
         "encoding": {"y2": {"field": "hi"}, "detail": {"field": "s"}, "color": {"field": "c", "type": "nominal", "legend": null, "scale": {"domain": ["0","-3","-6","-9","-12","-15","-18","-21","-24","-27","n"], "range": ["#800000","#e60000","#ff5000","#ffb400","#e0ff20","#80ff80","#1affe6","#00aaff","#0046ff","#0000e0","#000080"]}}}},
        {"transform": [{"filter": "datum.z == 7"}], "mark": {"type": "area", "interpolate": "monotone", "stroke": "#808080", "strokeWidth": 1, "opacity": 1, "clip": true},
         "encoding": {"y2": {"field": "hi"}, "detail": {"field": "s"}, "color": {"field": "c", "type": "nominal", "legend": null, "scale": {"domain": ["0","-3","-6","-9","-12","-15","-18","-21","-24","-27","n"], "range": ["#800000","#e60000","#ff5000","#ffb400","#e0ff20","#80ff80","#1affe6","#00aaff","#0046ff","#0000e0","#000080"]}}}},
        {"transform": [{"filter": "datum.z == 8"}], "mark": {"type": "area", "interpolate": "monotone", "stroke": "#808080", "strokeWidth": 1, "opacity": 1, "clip": true},
         "encoding": {"y2": {"field": "hi"}, "detail": {"field": "s"}, "color": {"field": "c", "type": "nominal", "legend": null, "scale": {"domain": ["0","-3","-6","-9","-12","-15","-18","-21","-24","-27","n"], "range": ["#800000","#e60000","#ff5000","#ffb400","#e0ff20","#80ff80","#1affe6","#00aaff","#0046ff","#0000e0","#000080"]}}}},
        {"data": {"name": "labels"}, "mark": {"type": "text", "fontSize": 31, "color": "black", "align": "center", "baseline": "middle"},
         "encoding": {"text": {"field": "txt"}}},
        {"data": {"name": "arta"}, "mark": {"type": "text", "fontSize": 40, "color": "black", "align": "center", "baseline": "middle", "dx": 19},
         "encoding": {"text": {"field": "txt"}}}
      ]
    },
    {
      "data": {"name": "bands"},
      "mark": {"type": "rect"},
      "encoding": {
        "x": {"datum": 22610, "type": "quantitative", "scale": {"type": "log", "domain": [500, 20000], "nice": false}, "axis": null},
        "x2": {"datum": 25250},
        "y": {
          "field": "lo", "type": "quantitative",
          "scale": {"domain": [-30, 0], "nice": false, "zero": false},
          "axis": {
            "orient": "right", "offset": 97, "ticks": false, "domain": false, "labelPadding": 10,
            "values": [-30, -27, -24, -21, -18, -15, -12, -9, -6, -3, 0],
            "labelExpr": "datum.value == 0 ? 'dB' : '-' + format(abs(datum.value), '.1f')",
            "labelFontSize": 46, "labelFlush": false, "labelOverlap": false, "title": null
          }
        },
        "y2": {"field": "hi"},
        "color": {"field": "c", "type": "nominal", "legend": null, "scale": {"domain": ["0","-3","-6","-9","-12","-15","-18","-21","-24","-27","n"], "range": ["#800000","#e60000","#ff5000","#ffb400","#e0ff20","#80ff80","#1affe6","#00aaff","#0046ff","#0000e0","#000080"]}}
      }
    }
  ],
  "resolve": {"scale": {"x": "independent", "y": "independent"}, "axis": {"x": "independent", "y": "independent"}}
}
